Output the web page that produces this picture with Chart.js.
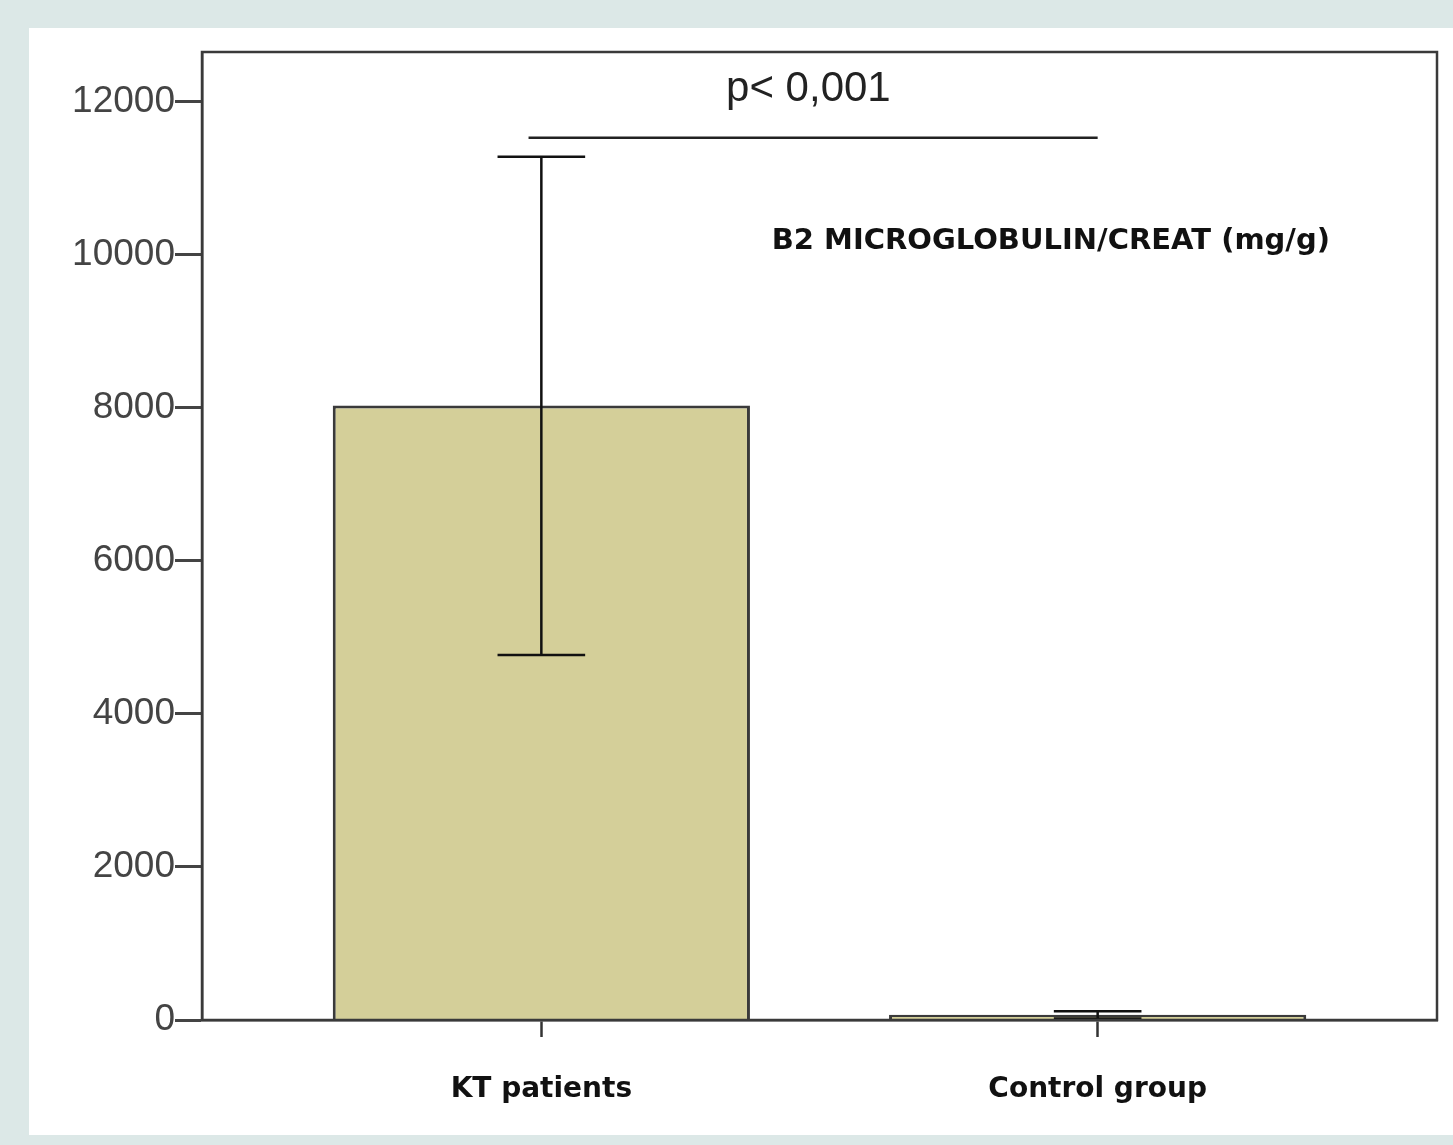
<!DOCTYPE html>
<html>
<head>
<meta charset="utf-8">
<script src="https://cdn.jsdelivr.net/npm/chart.js@4.4.0/dist/chart.umd.min.js"></script>
<style>
  html, body { margin: 0; padding: 0; background: #dce8e7; }
  #panel { position: absolute; left: 29px; top: 28px; width: 1424px; height: 1107px; background: #fff; }
</style>
</head>
<body>
<div id="panel"><canvas id="canvas"></canvas></div>
<script>
// data
const groups = ['KT patients', 'Control group'];
const groupX = [1, 2];
const means = [8030, 70];
const errLow = [4770, 20];
const errHigh = [11280, 115];
const yTicks = [0, 2000, 4000, 6000, 8000, 10000, 12000];

// annotation positions in data units
const pLabel = 'p< 0,001';
const pLabelAt = { x: 1.48, y: 12160 };
const pLine = { x1: 0.977, x2: 2.0, y: 11530 };
const measureLabel = 'B2 MICROGLOBULIN/CREAT (mg/g)';
const measureAt = { x: 1.414, y: 10170 };

const frame = {
    id: 'frame',
    afterDraw(chart) {
        const { ctx, chartArea: a } = chart;
        ctx.save();
        ctx.strokeStyle = '#3a3a3a';
        ctx.lineWidth = 2.5;
        ctx.strokeRect(a.left, a.top, a.right - a.left, a.bottom - a.top);
        ctx.restore();
    }
};

const errorBars = {
    id: 'errorBars',
    afterDatasetsDraw(chart) {
        const { ctx } = chart;
        const ys = chart.scales.y;
        const meta = chart.getDatasetMeta(0);
        ctx.save();
        ctx.strokeStyle = '#111';
        ctx.lineWidth = 2.5;
        meta.data.forEach((bar, i) => {
            const x = bar.x;
            const half = bar.width * 0.105;
            const top = ys.getPixelForValue(errHigh[i]);
            const bot = ys.getPixelForValue(errLow[i]);
            ctx.beginPath();
            ctx.moveTo(x, top); ctx.lineTo(x, bot);
            ctx.moveTo(x - half, top); ctx.lineTo(x + half, top);
            ctx.moveTo(x - half, bot); ctx.lineTo(x + half, bot);
            ctx.stroke();
        });
        ctx.restore();
    }
};

const notes = {
    id: 'notes',
    afterDraw(chart) {
        const { ctx } = chart;
        const xs = chart.scales.x, ys = chart.scales.y;
        ctx.save();
        ctx.fillStyle = '#222';
        ctx.font = '42px "Liberation Sans", Arial, sans-serif';
        ctx.textAlign = 'center';
        ctx.textBaseline = 'middle';
        ctx.fillText(pLabel, xs.getPixelForValue(pLabelAt.x), ys.getPixelForValue(pLabelAt.y));

        ctx.strokeStyle = '#222';
        ctx.lineWidth = 2.5;
        ctx.beginPath();
        const ly = ys.getPixelForValue(pLine.y);
        ctx.moveTo(xs.getPixelForValue(pLine.x1), ly);
        ctx.lineTo(xs.getPixelForValue(pLine.x2), ly);
        ctx.stroke();

        ctx.fillStyle = '#111';
        ctx.font = 'bold 29px "DejaVu Sans", Verdana, sans-serif';
        ctx.textAlign = 'left';
        ctx.fillText(measureLabel, xs.getPixelForValue(measureAt.x), ys.getPixelForValue(measureAt.y));
        ctx.restore();
    }
};

const ctx = document.getElementById('canvas').getContext('2d');
let myChart = new Chart(ctx, {
    type: 'bar',
    data: {
        datasets: [{
            data: groupX.map((x, i) => ({ x: x, y: means[i] })),
            backgroundColor: '#d4cf99',
            borderColor: '#3a3a3a',
            borderWidth: 3,
            barPercentage: 0.75,
            categoryPercentage: 1
        }]
    },
    options: {
        responsive: true,
        maintainAspectRatio: false,
        animation: false,
        layout: { padding: { top: 24, right: 16, left: 0, bottom: 0 } },
        plugins: { legend: { display: false }, tooltip: { enabled: false } },
        scales: {
            x: {
                type: 'linear',
                offset: false,
                min: 0.39,
                max: 2.61,
                afterBuildTicks: (s) => { s.ticks = groupX.map(v => ({ value: v })); },
                afterFit: (s) => { s.height = 115; },
                grid: { offset: false, drawOnChartArea: false, tickLength: 17, tickColor: '#333', tickWidth: 2.5 },
                border: { display: true, color: '#3a3a3a', width: 2.5 },
                ticks: {
                    padding: 36,
                    color: '#111',
                    font: { family: '"DejaVu Sans", Verdana, sans-serif', size: 28, weight: 'bold' },
                    callback: (v) => groups[groupX.indexOf(v)]
                }
            },
            y: {
                min: 0,
                max: 12650,
                afterBuildTicks: (s) => { s.ticks = yTicks.map(v => ({ value: v })); },
                afterFit: (s) => { s.width = 173; },
                grid: { drawOnChartArea: false, tickLength: 27, tickColor: '#444', tickWidth: 3 },
                border: { display: true, color: '#3a3a3a', width: 2.5 },
                ticks: {
                    padding: 0,
                    color: '#444',
                    font: { family: '"Liberation Sans", Arial, sans-serif', size: 37 },
                    callback: (v) => String(v)
                }
            }
        }
    },
    plugins: [frame, errorBars, notes]
});
</script>
</body>
</html>
